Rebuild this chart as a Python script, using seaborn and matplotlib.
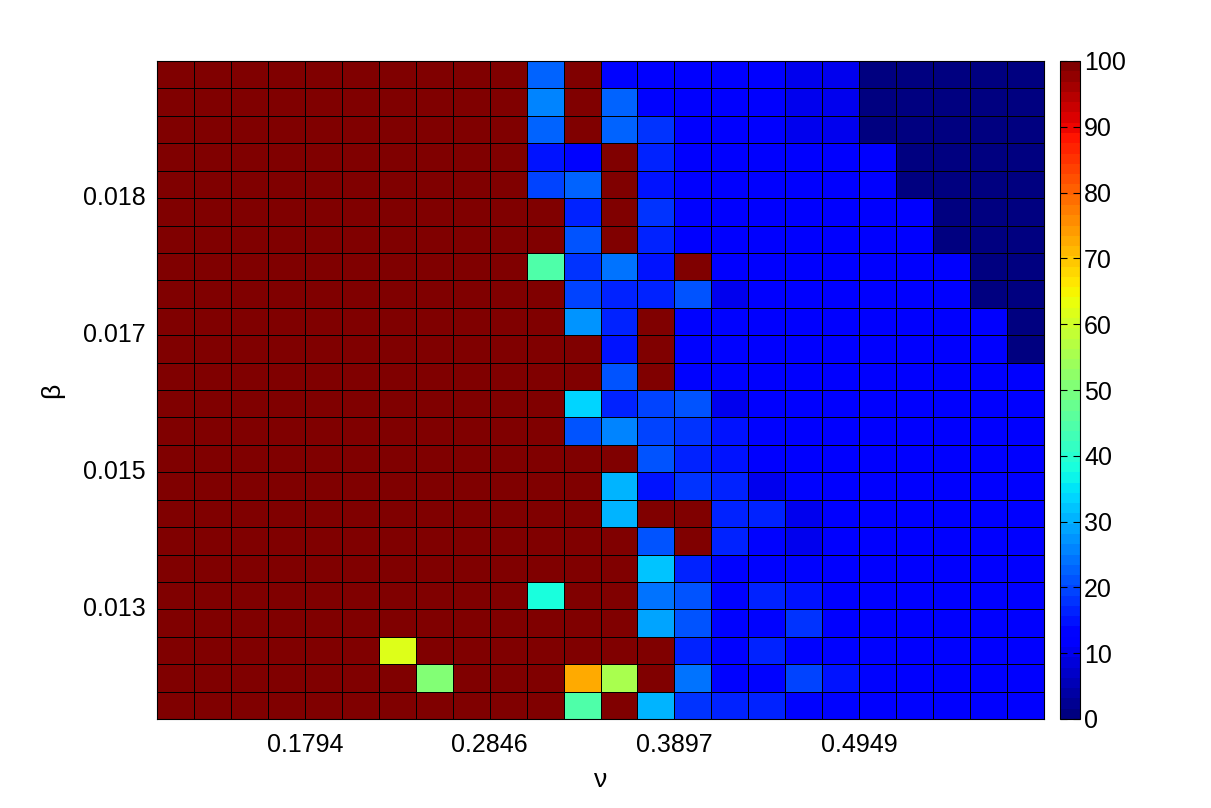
import numpy as np
import pandas as pd
import seaborn as sns
import matplotlib.pyplot as plt

plt.rcParams['font.family'] = ['Liberation Sans', 'DejaVu Sans']

# --- Success rate (%) on the nu / beta grid, top row = largest beta ---
R = 100
rate = [
    [R, R, R, R, R, R, R, R, R, R, 22, R, 13, 12, 11, 11, 11, 10, 10, 1, 1, 1, 1, 1],
    [R, R, R, R, R, R, R, R, R, R, 26, R, 22, 13, 11, 11, 11, 10, 10, 1, 1, 1, 1, 1],
    [R, R, R, R, R, R, R, R, R, R, 22, R, 23, 18, 11, 11, 11, 10, 10, 1, 1, 1, 1, 1],
    [R, R, R, R, R, R, R, R, R, R, 15, 13, R, 17, 11, 11, 11, 11, 11, 11, 1, 1, 1, 1],
    [R, R, R, R, R, R, R, R, R, R, 19, 23, R, 15, 11, 11, 11, 11, 11, 11, 1, 1, 1, 1],
    [R, R, R, R, R, R, R, R, R, R, R, 17, R, 18, 13, 11, 11, 11, 11, 11, 12, 1, 1, 1],
    [R, R, R, R, R, R, R, R, R, R, R, 21, R, 17, 11, 11, 11, 11, 11, 11, 11, 1, 1, 1],
    [R, R, R, R, R, R, R, R, R, R, 45, 18, 24, 15, R, 11, 11, 11, 11, 11, 11, 12, 1, 1],
    [R, R, R, R, R, R, R, R, R, R, R, 20, 16, 17, 21, 10, 11, 11, 11, 11, 11, 11, 1, 1],
    [R, R, R, R, R, R, R, R, R, R, R, 28, 17, R, 13, 13, 11, 11, 11, 11, 11, 11, 11, 1],
    [R, R, R, R, R, R, R, R, R, R, R, R, 15, R, 13, 13, 11, 11, 11, 11, 11, 11, 11, 1],
    [R, R, R, R, R, R, R, R, R, R, R, R, 21, R, 14, 13, 11, 11, 11, 11, 11, 11, 11, 11],
    [R, R, R, R, R, R, R, R, R, R, R, 34, 17, 19, 21, 10, 11, 11, 11, 11, 11, 11, 11, 11],
    [R, R, R, R, R, R, R, R, R, R, R, 21, 26, 19, 18, 15, 13, 11, 11, 11, 11, 11, 11, 11],
    [R, R, R, R, R, R, R, R, R, R, R, R, R, 21, 17, 15, 11, 11, 11, 11, 11, 11, 11, 11],
    [R, R, R, R, R, R, R, R, R, R, R, R, 31, 15, 18, 17, 10, 13, 11, 11, 11, 11, 11, 11],
    [R, R, R, R, R, R, R, R, R, R, R, R, 31, R, R, 16, 17, 10, 11, 11, 11, 11, 11, 11],
    [R, R, R, R, R, R, R, R, R, R, R, R, R, 21, R, 16, 14, 10, 11, 11, 11, 11, 11, 11],
    [R, R, R, R, R, R, R, R, R, R, R, R, R, 32, 17, 13, 14, 13, 11, 11, 11, 11, 11, 11],
    [R, R, R, R, R, R, R, R, R, R, 38, R, R, 24, 21, 13, 17, 15, 11, 11, 11, 11, 11, 11],
    [R, R, R, R, R, R, R, R, R, R, R, R, R, 29, 21, 14, 14, 18, 11, 11, 11, 11, 11, 11],
    [R, R, R, R, R, R, 61, R, R, R, R, R, R, R, 17, 14, 16, 14, 14, 13, 11, 13, 11, 11],
    [R, R, R, R, R, R, R, 50, R, R, R, 73, 56, R, 24, 13, 14, 20, 15, 13, 11, 11, 11, 11],
    [R, R, R, R, R, R, R, R, R, R, R, 45, R, 31, 18, 17, 16, 14, 14, 11, 13, 11, 11, 11],
]

nu_ticks = ['0.1794', '0.2846', '0.3897', '0.4949']
nu_tick_pos = [4, 9, 14, 19]
beta_ticks = ['0.018', '0.017', '0.015', '0.013']
beta_tick_pos = [5, 10, 15, 20]

df = pd.DataFrame(rate)

# --- Plot ---
W, H = 1211, 808
fig = plt.figure(figsize=(W / 100, H / 100), dpi=100)
ax = fig.add_axes([157 / W, 1 - 719 / H, (1044 - 157) / W, (719 - 61) / H])
cax = fig.add_axes([1060 / W, 1 - 719 / H, 20 / W, (719 - 61) / H])

jet = plt.get_cmap('jet', 64)
sns.heatmap(
    df,
    cmap=jet,
    vmin=0,
    vmax=100,
    linewidths=0.6,
    linecolor='black',
    cbar_ax=cax,
    ax=ax,
)

ax.set_xticks(nu_tick_pos)
ax.set_xticklabels(nu_ticks, rotation=0, fontsize=18)
ax.set_yticks(beta_tick_pos)
ax.set_yticklabels(beta_ticks, rotation=0, fontsize=18)
ax.tick_params(axis='both', length=0)
ax.tick_params(axis='x', pad=10)
ax.tick_params(axis='y', pad=8)
ax.set_xlabel('ν', fontsize=19, labelpad=8)
ax.set_ylabel('β', fontsize=19, labelpad=14)
for s in ax.spines.values():
    s.set_visible(True)
    s.set_color('black')
    s.set_linewidth(0.8)

cbar = ax.collections[0].colorbar
cbar.set_ticks(range(0, 101, 10))
cbar.outline.set_linewidth(0.8)
cbar.outline.set_edgecolor('black')
cax.tick_params(labelsize=18, direction='in', length=5, left=True, right=True, pad=3)

fig.savefig('out.png', dpi=100, facecolor='white')
